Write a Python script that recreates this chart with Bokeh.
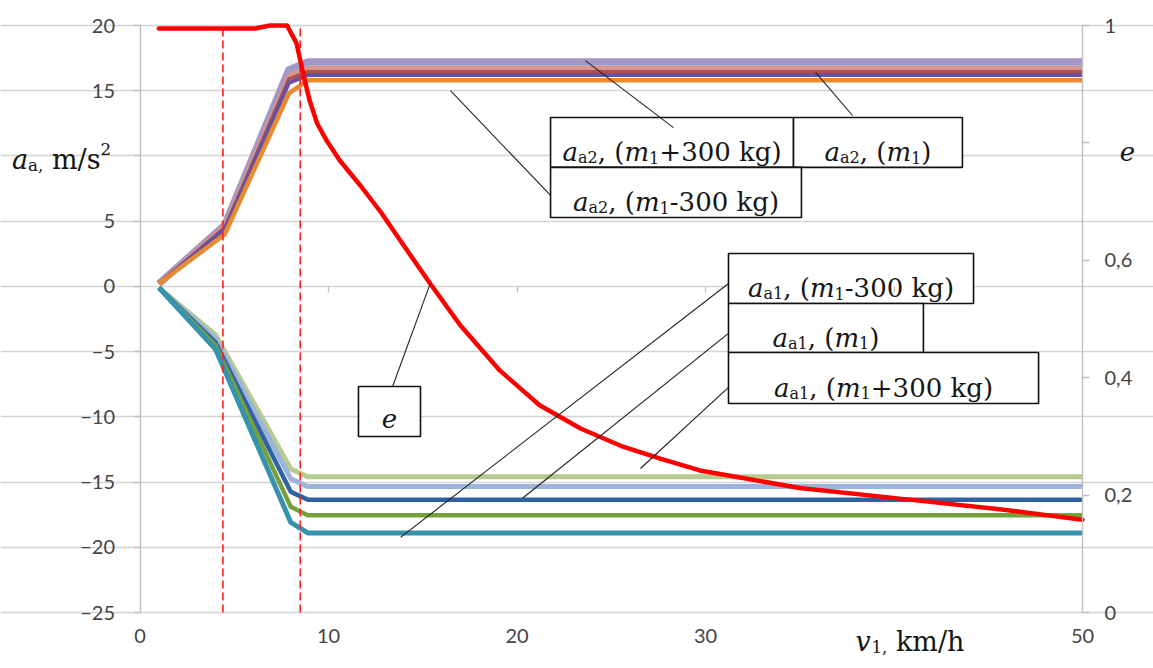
from bokeh.plotting import figure
from bokeh.models import Range1d, LinearAxis, Label, FixedTicker, Grid
from bokeh.embed import file_html
from bokeh.resources import INLINE

# ---------------- data ----------------
# speed knots for the acceleration curves (km/h)
v_a2 = [1.0, 4.5, 7.9, 8.9, 50.0]
v_a1 = [1.0, 4.0, 8.0, 8.9, 50.0]

# a_a2 series (m/s^2)
a2_plus300 = [0.2, 4.7, 16.6, 17.2, 17.2]
a2_plus300_b = [0.2, 4.6, 16.1, 16.7, 16.7]
a2_m1 = [0.2, 4.5, 15.9, 16.45, 16.45]
a2_m1_b = [0.2, 4.4, 15.6, 16.2, 16.2]
a2_minus300 = [0.2, 4.0, 14.8, 15.8, 15.8]

# a_a1 series (m/s^2)
a1_plus300 = [-0.1, -3.7, -14.0, -14.6, -14.6]
a1_plus300_b = [-0.1, -4.0, -14.75, -15.35, -15.35]
a1_m1 = [-0.1, -4.3, -15.75, -16.35, -16.35]
a1_m1_b = [-0.1, -4.5, -16.9, -17.55, -17.55]
a1_minus300 = [-0.1, -4.8, -18.1, -18.9, -18.9]

# e versus speed
e_v = [1.0, 6.1, 6.9, 7.8, 8.3, 8.7, 9.0, 9.4, 9.9, 10.6, 11.7, 12.8, 13.8,
       15.4, 17.0, 19.1, 21.2, 23.4, 25.5, 27.6, 29.7, 35.0, 40.3, 45.6, 50.0]
e_vals = [0.995, 0.995, 1.0, 1.0, 0.97, 0.912, 0.872, 0.833, 0.804, 0.77,
          0.727, 0.681, 0.634, 0.56, 0.489, 0.412, 0.353, 0.313, 0.284, 0.262,
          0.242, 0.212, 0.194, 0.176, 0.158]

# boundary speeds (km/h)
v_marks = [4.4, 8.5]

# axes
x_ticks = [0, 10, 20, 30, 40, 50]
y_ticks = [-25, -20, -15, -10, -5, 0, 5, 10, 15, 20]
e_ticks = [0, 0.2, 0.4, 0.6, 0.8, 1.0]
e_tick_labels = {0: "0", 0.2: "0,2", 0.4: "0,4", 0.6: "0,6", 0.8: "", 1.0: "1"}

# ---------------- page geometry ----------------
W, H = 1153, 668
PLOT_L, PLOT_R, PLOT_T, PLOT_B = 139.5, 1082.0, 25.0, 612.0   # plotting area, px
X0, X1 = x_ticks[0], x_ticks[-1]
Y0, Y1 = y_ticks[0], y_ticks[-1]
E0, E1 = e_ticks[0], e_ticks[-1]


def span_range(lo, hi, px_lo, px_hi, px_total, flip=False):
    """Range whose [lo, hi] lands on pixels [px_lo, px_hi] of the canvas."""
    k = (hi - lo) / (px_hi - px_lo)
    if flip:  # vertical: pixel rows grow downwards
        return Range1d(lo - (px_total - px_hi) * k, hi + px_lo * k)
    return Range1d(lo - px_lo * k, hi + (px_total - px_hi) * k)


p = figure(width=W, height=H,
           x_range=span_range(X0, X1, PLOT_L, PLOT_R, W),
           y_range=span_range(Y0, Y1, PLOT_T, PLOT_B, H, flip=True),
           x_axis_location=None, y_axis_location=None,
           output_backend="svg", toolbar_location=None, min_border=0)
p.extra_y_ranges = {"e": span_range(E0, E1, PLOT_T, PLOT_B, H, flip=True)}
p.outline_line_color = None
p.background_fill_color = "white"
p.border_fill_color = "white"
p.center = []

TICK_FONT = "Lato"
TICK_COLOR = "#444444"
GRID = "#d4d4d4"
AXIS = "#c0c0c0"

p.add_layout(Grid(dimension=1, ticker=FixedTicker(ticks=y_ticks), bounds=(X0, X1),
                  grid_line_color=GRID, grid_line_width=1.4))


def style_axis(ax, standoff, tick_out=7, line=True):
    ax.axis_line_color = AXIS if line else None
    ax.axis_line_width = 1.4
    ax.major_tick_line_color = AXIS if tick_out else None
    ax.major_tick_line_width = 1.3
    ax.major_tick_out = tick_out
    ax.major_tick_in = 0
    ax.minor_tick_line_color = None
    ax.major_label_standoff = standoff
    ax.major_label_text_font = TICK_FONT
    ax.major_label_text_font_size = "20px"
    ax.major_label_text_color = TICK_COLOR


yax = LinearAxis(fixed_location=X0, bounds=(Y0, Y1), ticker=FixedTicker(ticks=y_ticks))
yax.major_label_overrides = {10: ""}
style_axis(yax, 18)
p.add_layout(yax, "left")

eax = LinearAxis(y_range_name="e", fixed_location=X1, bounds=(E0, E1),
                 ticker=FixedTicker(ticks=e_ticks))
eax.major_label_overrides = e_tick_labels
style_axis(eax, 15)
p.add_layout(eax, "right")

xax = LinearAxis(fixed_location=Y0, bounds=(X0, X1), ticker=FixedTicker(ticks=x_ticks))
xax.major_label_overrides = {40: ""}
style_axis(xax, 16, tick_out=0, line=False)
p.add_layout(xax, "below")

# tick marks of the speed axis on the zero line
inner_ticks = x_ticks[1:-1]
zax = LinearAxis(fixed_location=0, bounds=(X0, X1), ticker=FixedTicker(ticks=inner_ticks))
zax.major_label_overrides = {t: "" for t in inner_ticks}
style_axis(zax, 0, tick_out=6, line=False)
zax.major_label_text_color = None
p.add_layout(zax, "below")

# ---------------- curves ----------------
a2_styles = [
    (a2_plus300, "#a497c3", 7.5),
    (a2_plus300_b, "#d6968e", 5),
    (a2_m1, "#b24f4c", 3.5),
    (a2_m1_b, "#6a519e", 4),
    (a2_minus300, "#e88a30", 4.5),
]
for vals, col, w in a2_styles:
    p.line(v_a2, vals, line_color=col, line_width=w, line_join="round")

a1_styles = [
    (a1_plus300, "#b6cc8f", 5),
    (a1_plus300_b, "#9db3dc", 5),
    (a1_m1, "#2f62a5", 4.5),
    (a1_m1_b, "#76a03c", 4.5),
    (a1_minus300, "#3693ae", 5),
]
for vals, col, w in a1_styles:
    p.line(v_a1, vals, line_color=col, line_width=w, line_join="round")

p.segment(x0=v_marks, y0=[Y0] * len(v_marks), x1=v_marks, y1=[Y1] * len(v_marks),
          line_color="#ff2020", line_width=1.6, line_dash="8 4")

p.line(e_v, e_vals, y_range_name="e", line_color="#ff0000", line_width=4.5,
       line_join="round", line_cap="round")

# ---------------- callout boxes ----------------
SERIF = "DejaVu Serif"
ADV = {" ": 0.318, ",": 0.318, "-": 0.338, "(": 0.390, ")": 0.390, "+": 0.838,
       "/": 0.337, "a": 0.596, "e": 0.592, "g": 0.640, "h": 0.644, "k": 0.609,
       "m": 0.946, "s": 0.513, "v": 0.586}
for d in "0123456789":
    ADV[d] = 0.636


def width_of(s, size):
    return sum(ADV.get(ch, 0.6) for ch in s) * size


def rich(x, y, parts, size, dx=0.0, dy=0.0, center=True, y_range_name="default"):
    """Draw a run of text pieces: (text, scale, italic, baseline shift in em)."""
    widths = [width_of(t, size * r) for t, r, it, sh in parts]
    cur = dx - (sum(widths) / 2 if center else 0)
    for (t, r, it, sh), w in zip(parts, widths):
        if t.strip():
            lead = width_of(t[:len(t) - len(t.lstrip())], size * r)
            p.add_layout(Label(
                x=x, y=y, x_offset=cur + lead, y_offset=dy + sh * size,
                text=t.strip(), text_font=SERIF,
                text_font_size=f"{size * r:.1f}px",
                text_font_style="italic" if it else "normal",
                text_align="left", text_baseline="alphabetic",
                text_color="#151515", y_range_name=y_range_name))
        cur += w


SUB = 0.62
SH = -0.22


def accel_label(idx, tail):
    return [("a", 1, True, 0), (f"a{idx}", SUB, False, SH), (",", 1, False, 0),
            (" ", 1, False, 0), ("(", 1, False, 0), ("m", 1, True, 0),
            ("1", SUB, False, SH)] + tail


boxes = [
    # (left, right, top, bottom, pieces)
    (21.78, 34.67, 12.95, 9.12, accel_label(2, [("+300 kg)", 1, False, 0)])),
    (34.67, 43.63, 12.95, 9.12, accel_label(2, [(")", 1, False, 0)])),
    (21.78, 35.09, 9.12, 5.28, accel_label(2, [("-300 kg)", 1, False, 0)])),
    (11.59, 14.88, -7.67, -11.51, [("e", 1, True, 0)]),
    (31.22, 44.22, 2.52, -1.31, accel_label(1, [("-300 kg)", 1, False, 0)])),
    (31.22, 41.56, -1.31, -5.07, accel_label(1, [(")", 1, False, 0)])),
    (31.22, 47.67, -5.07, -8.98, accel_label(1, [("+300 kg)", 1, False, 0)])),
]
p.quad(left=[b[0] for b in boxes], right=[b[1] for b in boxes],
       top=[b[2] for b in boxes], bottom=[b[3] for b in boxes],
       fill_color="white", line_color="#111111", line_width=1.6)

leaders = [
    (23.63, 17.31, 28.3, 12.17),
    (35.84, 16.4, 37.8, 13.1),
    (16.47, 15.01, 21.78, 6.97),
    (15.4, 0.23, 13.4, -7.67),
    (13.82, -19.24, 31.22, 0.22),
    (20.29, -16.24, 31.22, -3.6),
    (26.55, -13.96, 31.22, -7.74),
]
p.segment(x0=[l[0] for l in leaders], y0=[l[1] for l in leaders],
          x1=[l[2] for l in leaders], y1=[l[3] for l in leaders],
          line_color="#222222", line_width=1.1)

FS = 26
for left, right, top, bottom, parts in boxes:
    is_e = len(parts) == 1
    rich((left + right) / 2, (top + bottom) / 2, parts, FS,
         dy=-6.8 if is_e else -9.5)

# axis titles
rich(X0, 10, [("a", 1, True, 0), ("a,", SUB, False, SH), (" ", 1, False, 0),
              ("m/s", 1, False, 0), ("2", SUB, False, 0.38)],
     27, dx=-128, dy=-3.5, center=False)
rich(40, Y0, [("v", 1, True, 0), ("1,", SUB, False, SH), (" ", 1, False, 0),
              ("km/h", 1, False, 0)], 27, dx=16, dy=-29)
rich(X1, 0.8, [("e", 1, True, 0)], FS, dx=45, dy=-8.5, y_range_name="e")

open("out.html", "w").write(file_html(p, INLINE))
